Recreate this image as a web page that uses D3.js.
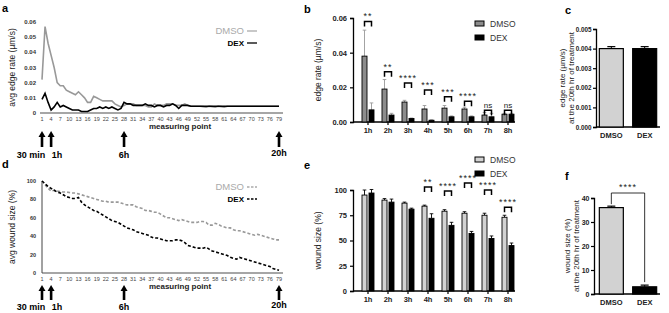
<!DOCTYPE html>
<html><head><meta charset="utf-8">
<script src="https://cdn.jsdelivr.net/npm/d3@7"></script>
<style>body{margin:0;background:#fff}svg{display:block;font-family:"Liberation Sans",Arial,sans-serif}</style>
</head><body><svg id="chart" width="669" height="313"></svg>
<script>
// ---------- DATA ----------
const measuringTicks = [1,4,7,10,13,16,19,22,25,28,31,34,37,40,43,46,49,52,55,58,61,64,67,70,73,76,79];
const arrowPoints = [1,4,28,79];
const arrowLabels = ["30 min","1h","6h","20h"];

const edgeDmso = [0.022,0.057,0.046,0.038,0.030,0.020,0.018,0.018,0.015,0.014,
  0.013,0.012,0.014,0.012,0.010,0.007,0.007,0.011,0.010,0.009,
  0.008,0.008,0.008,0.008,0.006,0.005,0.004,0.005,0.006,0.006,
  0.006,0.005,0.005,0.005,0.005,0.004,0.004,0.006,0.005,0.005,
  0.005,0.006,0.006,0.006,0.005,0.005,0.005,0.006,0.005,0.0045,
  0.0045,0.0045,0.0045,0.0042,0.0038,0.0045,0.0042,0.0038,0.0045,0.0042,
  0.0038,0.0045,0.0045,0.0045,0.0045,0.0045,0.0045,0.0045,0.0045,0.0045,
  0.0045,0.0045,0.0045,0.0045,0.0045,0.0045,0.0045,0.0045,0.0045];
const edgeDex = [0.009,0.013,0.007,0.002,0.004,0.007,0.004,0.005,0.004,0.003,
  0.002,0.002,0.002,0.001,0.001,0.001,0.002,0.003,0.003,0.004,
  0.003,0.004,0.003,0.004,0.003,0.002,0.003,0.007,0.006,0.006,
  0.005,0.005,0.005,0.005,0.006,0.005,0.005,0.004,0.005,0.005,
  0.004,0.005,0.005,0.006,0.005,0.003,0.005,0.005,0.005,0.0045,
  0.0045,0.0045,0.0045,0.0045,0.0045,0.0045,0.0045,0.0045,0.0045,0.0045,
  0.0045,0.0045,0.0045,0.0045,0.0045,0.0045,0.0045,0.0045,0.0045,0.0045,
  0.0045,0.0045,0.0045,0.0045,0.0045,0.0045,0.0045,0.0045,0.0045];

const woundDmso = [100,96,92,89,90,89,88.5,88,88,87.5,87,87,86,85,84,83,82,81,80,79,
  78,78,77,77,77,77,76,75,74,74,74,72,71,70,68,68,67,66,66,64,
  62,60,60,59,58,57,58,57,56,55,55,55,56,56,55,52,52,54,53,51,
  50,49,49,47,46,46,45,44,43,42,41,42,41,40,39,38,37,36,36];
const woundDex = [100,97,94,92,90,88,87,85,83,82,81,81,82,77,74,72,70,68,67,65,
  63,61,59,57,56,55,53,51,49,48,47,45,44,43,42,41,39,38,38,37,
  36,35,35,35,36,36,35,33,30,29,28,27,27,27,28,26,24,23,22,21,
  20,19,17,16,15,17,16,15,14,13,12,11,10,9,8,7,5,4,3];

const hours = ["1h","2h","3h","4h","5h","6h","7h","8h"];
const bDmso = [0.038,0.019,0.0115,0.0075,0.008,0.0075,0.004,0.0045];
const bDmsoErr = [0.015,0.0055,0.001,0.002,0.0015,0.001,0.0015,0.0005];
const bDex = [0.007,0.004,0.002,0.001,0.003,0.003,0.003,0.0045];
const bDexErr = [0.004,0.001,0.0003,0.0003,0.0005,0.0005,0.002,0.0005];
const bSig = ["**","**","****","***","***","****","ns","ns"];
const bSigLevel = [0.058,0.029,0.0225,0.0185,0.0145,0.012,0.0068,0.0068];

const groups = ["DMSO","DEX"];
const cValues = [0.0040,0.0040];
const cErr = [0.0001,0.0001];

const eDmso = [95,90,87,84,79,77,75,73];
const eDmsoErr = [5,1.5,1,1,1.5,1.5,2,2];
const eDex = [97,88,81,72,65,57,52,45];
const eDexErr = [3.5,3,1,4.5,3,2,2.5,2.5];
const eSig = ["","","","**","****","****","****","****"];
const eSigLevel = [0,0,0,103,99,107,100,83];

const fValues = [36,3];
const fErr = [0.6,0.7];
const fSig = "****";

// ---------- DRAW ----------
const svg = d3.select("#chart");
const FONT = '"Liberation Sans",Arial,sans-serif';

function panelLabel(x,y,t){
  svg.append("text").attr("x",x).attr("y",y).attr("font-size",11).attr("font-weight","bold").text(t);
}
function arrow(g,x,yTip,yBase){
  g.append("rect").attr("x",x-1.3).attr("y",yTip+5).attr("width",2.6).attr("height",yBase-yTip-5).attr("fill","#000");
  g.append("path").attr("d",`M${x-3.5},${yTip+6}L${x},${yTip}L${x+3.5},${yTip+6}Z`).attr("fill","#000");
}

// ---- Panel a & d (line charts) ----
function linePanel(opt){
  const g = svg.append("g");
  const x = d3.scaleLinear().domain([1,79]).range([42,279]);
  const y = d3.scaleLinear().domain(opt.yDomain).range([opt.y0,opt.y1]);
  g.append("line").attr("x1",opt.yAxis?42:40).attr("x2",283).attr("y1",opt.y0).attr("y2",opt.y0)
    .attr("stroke","#888").attr("stroke-width",1.6);
  if(opt.yAxis){
    g.append("line").attr("x1",42).attr("x2",42).attr("y1",opt.y0).attr("y2",opt.y1).attr("stroke","#444").attr("stroke-width",1);
  }
  g.selectAll(".xt").data(measuringTicks).enter().append("text")
    .attr("x",d=>x(d)).attr("y",opt.y0+8).attr("text-anchor","middle").attr("font-size",5.5).attr("fill","#444").text(d=>d);
  g.selectAll(".yt").data(opt.yTicks).enter().append("text")
    .attr("x",36).attr("y",d=>y(d)+2).attr("text-anchor","end").attr("font-size",opt.yFont).attr("font-weight","bold").attr("fill","#333")
    .text(opt.yFmt);
  const line = d3.line().x((d,i)=>x(i+1)).y(d=>y(d));
  g.append("path").datum(opt.s1).attr("d",line).attr("fill","none").attr("stroke","#999").attr("stroke-width",1.6)
    .attr("stroke-dasharray",opt.dash||null);
  g.append("path").datum(opt.s2).attr("d",line).attr("fill","none").attr("stroke","#000").attr("stroke-width",1.6)
    .attr("stroke-dasharray",opt.dash||null);
  // legend
  g.append("text").attr("x",244).attr("y",opt.legY).attr("text-anchor","end").attr("font-size",9.5).attr("fill","#aaa").text(groups[0]);
  g.append("text").attr("x",244).attr("y",opt.legY+12).attr("text-anchor","end").attr("font-size",8).attr("font-weight","bold").attr("fill","#000").text(groups[1]);
  g.append("line").attr("x1",247).attr("x2",257).attr("y1",opt.legY-3).attr("y2",opt.legY-3).attr("stroke","#aaa").attr("stroke-width",1.3).attr("stroke-dasharray",opt.dash?"2.5,1.5":null);
  g.append("line").attr("x1",247).attr("x2",257).attr("y1",opt.legY+9).attr("y2",opt.legY+9).attr("stroke","#000").attr("stroke-width",1.3).attr("stroke-dasharray",opt.dash?"2.5,1.5":null);
  // x title
  g.append("text").attr("x",180).attr("y",opt.y0+opt.titleDy).attr("text-anchor","middle").attr("font-size",8).attr("font-weight","bold").attr("fill","#222").text("measuring point");
  // y title
  g.append("text").attr("transform",`translate(15,${(opt.y0+opt.y1)/2}) rotate(-90)`).attr("text-anchor","middle").attr("font-size",8.5).attr("fill","#222").text(opt.yTitle);
  // arrows
  arrowPoints.forEach(p=>{
    arrow(g,x(p),opt.y0+opt.arrTop,opt.y0+opt.arrBot);
  });
  const labelX = [31,57,x(28),x(79)];
  arrowLabels.forEach((t,i)=>{
    g.append("text").attr("x",labelX[i]).attr("y",opt.y0+(i===3?opt.labDy-2:opt.labDy)).attr("text-anchor","middle").attr("font-size",9).attr("font-weight","bold").text(t);
  });
}
panelLabel(2,12,"a");
linePanel({yDomain:[0,0.06],y0:113,y1:22,yTicks:[0,0.01,0.02,0.03,0.04,0.05,0.06],yFmt:d=>d===0?"0":d3.format(".2f")(d),yFont:6,
  s1:edgeDmso,s2:edgeDex,legY:34,yTitle:"avg edge rate (µm/s)",titleDy:16,arrTop:18,arrBot:34,labDy:45});
panelLabel(2,168,"d");
linePanel({yDomain:[0,100],y0:273,y1:181,yTicks:[0,20,40,60,80,100],yFmt:d=>d,yFont:5.5,yAxis:true,dash:"3,2",
  s1:woundDmso,s2:woundDex,legY:190,yTitle:"avg wound size (%)",titleDy:16,arrTop:12,arrBot:27,labDy:37});

// ---- grouped bar panels b & e ----
function groupedPanel(opt){
  const g = svg.append("g");
  const x = d3.scaleBand().domain(hours).range([358,518]);
  const y = d3.scaleLinear().domain(opt.yDomain).range([opt.y0,opt.y1]);
  const yAx = g.append("g").attr("transform","translate(353,0)").call(d3.axisLeft(y).tickValues(opt.yTicks).tickSize(3).tickFormat(opt.yFmt));
  const xAx = g.append("g").attr("transform",`translate(0,${opt.y0})`).call(d3.axisBottom(x).tickSize(3));
  [yAx,xAx].forEach(a=>{
    a.select(".domain").attr("stroke","#000").attr("stroke-width",1.3);
    a.selectAll(".tick line").attr("stroke","#000").attr("stroke-width",1.2);
    a.selectAll("text").attr("font-family",FONT).attr("font-size",7.5).attr("font-weight","bold").attr("fill","#222");
  });
  xAx.select(".domain").attr("d",`M353,0H515`);
  const bw = 5;
  const c = d=>x(d)+x.bandwidth()/2;
  const series = [{v:opt.s1,e:opt.e1,fill:opt.fill1,dx:-bw-1},{v:opt.s2,e:opt.e2,fill:"#000",dx:1}];
  series.forEach(s=>{
    hours.forEach((h,i)=>{
      const bx = c(h)+s.dx;
      const top = y(s.v[i]), et = y(s.v[i]+s.e[i]);
      g.append("line").attr("x1",bx+bw/2).attr("x2",bx+bw/2).attr("y1",top).attr("y2",et).attr("stroke",opt.errColor).attr("stroke-width",0.9);
      g.append("line").attr("x1",bx+bw/2-1.8).attr("x2",bx+bw/2+1.8).attr("y1",et).attr("y2",et).attr("stroke",opt.errColor).attr("stroke-width",0.9);
      g.append("rect").attr("x",bx).attr("y",top).attr("width",bw).attr("height",opt.y0-top)
        .attr("fill",s.fill).attr("stroke","#000").attr("stroke-width",0.9);
    });
  });
  hours.forEach((h,i)=>{
    if(!opt.sig[i]) return;
    const ly = y(opt.sigLevel[i]);
    const x1 = c(h)-bw/2-1, x2 = c(h)+bw/2+1;
    g.append("path").attr("d",`M${x1},${ly+5}V${ly}H${x2}V${ly+5}`).attr("fill","none").attr("stroke","#000").attr("stroke-width",1.5);
    g.append("text").attr("x",c(h)).attr("y",ly-2).attr("text-anchor","middle").attr("font-size",opt.sig[i]==="ns"?8:9)
      .attr("letter-spacing",opt.sig[i]==="ns"?0:1).attr("fill","#222").text(opt.sig[i]);
  });
  groups.forEach((gname,i)=>{
    g.append("rect").attr("x",475).attr("y",opt.legY+i*14-6).attr("width",9).attr("height",5)
      .attr("fill",i===0?opt.fill1:"#000").attr("stroke","#000").attr("stroke-width",1);
    g.append("text").attr("x",490).attr("y",opt.legY+i*14).attr("font-size",8.5).attr("fill","#333").text(gname);
  });
  g.append("text").attr("transform",`translate(${opt.titleX},${(opt.y0+opt.y1)/2}) rotate(-90)`).attr("text-anchor","middle")
    .attr("font-size",8.5).attr("fill","#222").text(opt.yTitle);
}
panelLabel(304,13,"b");
groupedPanel({yDomain:[0,0.06],y0:122,y1:18,yTicks:[0,0.02,0.04,0.06],yFmt:d3.format(".2f"),s1:bDmso,e1:bDmsoErr,s2:bDex,e2:bDexErr,
  fill1:"#8c8c8c",errColor:"#999",sig:bSig,sigLevel:bSigLevel,legY:27,yTitle:"edge rate (µm/s)",titleX:321});
panelLabel(304,169,"e");
groupedPanel({yDomain:[0,100],y0:291,y1:190,yTicks:[0,25,50,75,100],yFmt:d=>d,s1:eDmso,e1:eDmsoErr,s2:eDex,e2:eDexErr,
  fill1:"#d2d2d2",errColor:"#000",sig:eSig,sigLevel:eSigLevel,legY:163,yTitle:"wound size (%)",titleX:321});

// ---- single bar panels c & f ----
function singlePanel(opt){
  const g = svg.append("g");
  const x = d3.scaleBand().domain(groups).range([596,660]).paddingInner(0.28).paddingOuter(0.1);
  const y = d3.scaleLinear().domain(opt.yDomain).range([opt.y0,opt.y1]);
  const yAx = g.append("g").attr("transform",`translate(${opt.axX},0)`).call(d3.axisLeft(y).tickValues(opt.yTicks).tickSize(3).tickPadding(1.5).tickFormat(opt.yFmt));
  const xAx = g.append("g").attr("transform",`translate(0,${opt.y0})`).call(d3.axisBottom(x).tickSize(0).tickPadding(6));
  [yAx,xAx].forEach(a=>{
    a.select(".domain").attr("stroke","#000").attr("stroke-width",1.3);
    a.selectAll(".tick line").attr("stroke","#000").attr("stroke-width",1.2);
    a.selectAll("text").attr("font-family",FONT).attr("font-size",7.5).attr("font-weight","bold").attr("fill","#222");
  });
  yAx.selectAll("text").attr("font-size",opt.tickFont);
  xAx.select(".domain").attr("d",`M${opt.axX},0H660`);
  groups.forEach((gr,i)=>{
    const bx = x(gr), w = x.bandwidth(), top = y(opt.v[i]), et = y(opt.v[i]+opt.e[i]);
    g.append("line").attr("x1",bx+w/2).attr("x2",bx+w/2).attr("y1",top).attr("y2",et).attr("stroke","#000").attr("stroke-width",1);
    g.append("line").attr("x1",bx+w/2-4).attr("x2",bx+w/2+4).attr("y1",et).attr("y2",et).attr("stroke","#000").attr("stroke-width",1.2);
    g.append("rect").attr("x",bx).attr("y",top).attr("width",w).attr("height",opt.y0-top)
      .attr("fill",i===0?"#d2d2d2":"#000").attr("stroke","#000").attr("stroke-width",1.2);
  });
  if(opt.sig){
    const c0 = x(groups[0])+x.bandwidth()/2, c1 = x(groups[1])+x.bandwidth()/2;
    const ly = opt.sigY;
    g.append("path").attr("d",`M${c0},${y(opt.v[0]+opt.e[0])-2}V${ly}H${c1}V${y(opt.v[1]+opt.e[1])-3}`).attr("fill","none").attr("stroke","#000").attr("stroke-width",0.8);
    g.append("text").attr("x",(c0+c1)/2).attr("y",ly-3).attr("text-anchor","middle").attr("font-size",9).attr("letter-spacing",1).attr("fill","#222").text(opt.sig);
  }
  const cy = (opt.y0+opt.y1)/2;
  g.append("text").attr("transform",`translate(${opt.tx},${cy}) rotate(-90)`).attr("text-anchor","middle").attr("font-size",8).attr("fill","#222").text(opt.t1);
  g.append("text").attr("transform",`translate(${opt.tx+9},${cy}) rotate(-90)`).attr("text-anchor","middle").attr("font-size",8).attr("fill","#222").text("at the 20th hr of treatment");
}
panelLabel(565,14,"c");
singlePanel({yDomain:[0,0.005],y0:127,y1:29,axX:596,yTicks:[0,0.001,0.002,0.003,0.004,0.005],yFmt:d3.format(".3f"),v:cValues,e:cErr,
  t1:"edge rate (µm/s)",tx:565,tickFont:6.3});
panelLabel(565,180,"f");
singlePanel({yDomain:[0,40],y0:294,y1:198,axX:594,yTicks:[0,10,20,30,40],yFmt:d=>d,v:fValues,e:fErr,sig:fSig,sigY:193,
  t1:"wound size (%)",tx:570,tickFont:7});
</script></body></html>
